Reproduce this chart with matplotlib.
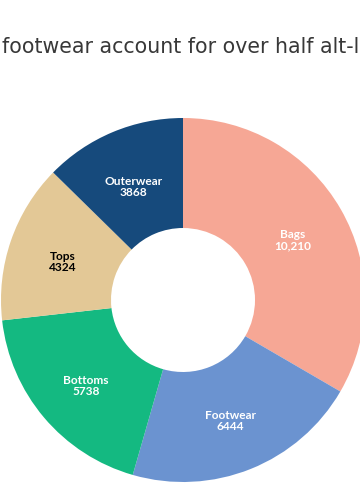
import numpy as np
import matplotlib.pyplot as plt

# data
categories = ["Bags", "Footwear", "Bottoms", "Tops", "Outerwear"]
values = [10210, 6444, 5738, 4324, 3868]
value_labels = ["10,210", "6444", "5738", "4324", "3868"]
colors = ["#F6A795", "#6B93D0", "#14B981", "#E3C896", "#164A7C"]
text_colors = ["white", "white", "white", "black", "white"]

title = "footwear account for over half alt-leather products"

fig = plt.figure(figsize=(3.6, 5.0), dpi=100)
ax = fig.add_axes([0, 0, 1, 1])

# donut in pixel-based units (radius = 1)
R = 182.0
cx, cy = 183.0, 200.0
inner = 72.0 / R

wedges, _ = ax.pie(values, startangle=90, counterclock=False, radius=1,
                   colors=colors, wedgeprops=dict(width=1 - inner, linewidth=0),
                   frame=True)
ax.set_xlim(-cx / R, (360 - cx) / R)
ax.set_ylim(-cy / R, (500 - cy) / R)
ax.set_aspect("auto")
ax.axis("off")

# labels at middle of ring
lab_r = (1 + inner) / 2
for w, cat, vl, tc in zip(wedges, categories, value_labels, text_colors):
    ang = np.deg2rad((w.theta1 + w.theta2) / 2)
    x = lab_r * np.cos(ang)
    y = lab_r * np.sin(ang)
    ax.text(x, y - 0.02, cat + "\n" + vl, ha="center", va="center", color=tc,
            fontsize=8.6, fontweight="bold", family=["Lato", "DejaVu Sans"],
            linespacing=1.0)

fig.text(2 / 360, 1 - 47 / 500, title, ha="left", va="center",
         fontsize=14.8, color="#383838")

fig.savefig("out.png", dpi=100)
